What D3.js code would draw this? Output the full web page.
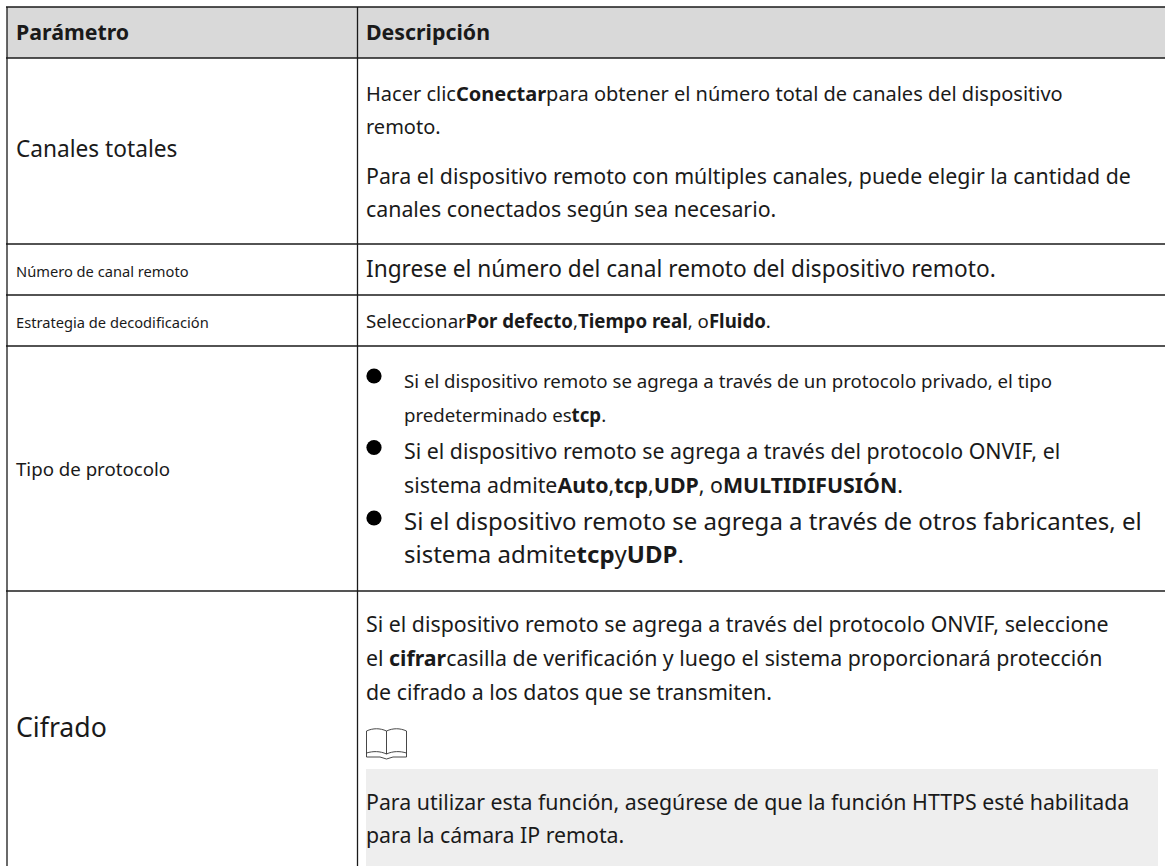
<!DOCTYPE html>
<html><head><meta charset="utf-8">
<script src="https://cdn.jsdelivr.net/npm/d3@7"></script>
<style>html,body{margin:0;padding:0;background:#fff;overflow:hidden}svg{display:block}text{font-family:"Noto Sans";fill:#1a1a1a;white-space:pre}</style>
</head><body><svg id="c" width="1165" height="866"></svg>
<script>
const headers = ["Parámetro", "Descripción"];
const params = ["Canales totales", "Número de canal remoto", "Estrategia de decodificación", "Tipo de protocolo", "Cifrado"];
const descLines = [
 "Hacer clic**Conectar**para obtener el número total de canales del dispositivo",
 "remoto.",
 "Para el dispositivo remoto con múltiples canales, puede elegir la cantidad de",
 "canales conectados según sea necesario.",
 "Ingrese el número del canal remoto del dispositivo remoto.",
 "Seleccionar**Por defecto**,**Tiempo real**, o**Fluido**.",
 "Si el dispositivo remoto se agrega a través de un protocolo privado, el tipo",
 "predeterminado es**tcp**.",
 "Si el dispositivo remoto se agrega a través del protocolo ONVIF, el",
 "sistema admite**Auto**,**tcp**,**UDP**, o**MULTIDIFUSIÓN**.",
 "Si el dispositivo remoto se agrega a través de otros fabricantes, el",
 "sistema admite**tcp**y**UDP**.",
 "Si el dispositivo remoto se agrega a través del protocolo ONVIF, seleccione",
 "el **cifrar**casilla de verificación y luego el sistema proporcionará protección",
 "de cifrado a los datos que se transmiten.",
 "Para utilizar esta función, asegúrese de que la función HTTPS esté habilitada",
 "para la cámara IP remota."
];
// layout
const W=1165, X0=7, X1=357.5, X2=1165, rowEdges=[7,58,244,295,346,591];
const paramY=[157,277,328,476,737], paramSize=[22.67,14.67,14.67,18.67,26.67];
const descLayout=[[101,20],[134,20],[184,21.33],[217,21.33],[277,22.67],[328,18.67],[388,18.67],[422,18.67],[459,21.33],[493,21.33],[530,24],[563,24],
 [632,21.33],[666,21.33],[700,21.33],[810,21.33],[843,21.33]];
const bulletIdx=[6,8,10], bulletCy=[376,447.5,518];
const svg=d3.select("#c");
svg.append("rect").attr("x",X0).attr("y",rowEdges[0]).attr("width",X2-X0).attr("height",rowEdges[1]-rowEdges[0]).attr("fill","#d9d9d9");
svg.append("rect").attr("x",366).attr("y",769).attr("width",792).attr("height",97).attr("fill","#eeeeee");
const lines=svg.append("g").attr("stroke","#1a1a1a").attr("stroke-width",1.3);
rowEdges.forEach((y,i)=>lines.append("line").attr("x1",X0-1).attr("x2",X2).attr("y1",y).attr("y2",y)
  .attr("stroke",i==5?"#555":null).attr("stroke-width",i==5?2:null));
[X0,X1].forEach(x=>lines.append("line").attr("x1",x).attr("x2",x).attr("y1",rowEdges[0]).attr("y2",866));
function put(s,x,y,size,bold){
 const t=svg.append("text").attr("x",x).attr("y",y).attr("font-size",size);
 s.split("**").forEach((p,i)=>{ if(p) t.append("tspan").attr("font-weight",(bold||i%2)?700:400).text(p);});
}
headers.forEach((h,i)=>put(h,[16,366][i],40,21.33,true));
params.forEach((p,i)=>put(p,16,paramY[i],paramSize[i]));
descLines.forEach((l,i)=>{const [y,s]=descLayout[i]; const bullet=i>=6&&i<=11; put(l,bullet?404:366,y,s);});
svg.selectAll("circle.b").data(bulletCy).join("circle").attr("cx",374).attr("cy",d=>d).attr("r",7.6).attr("fill","#000");
const bk=svg.append("g").attr("fill","none").attr("stroke","#333").attr("stroke-width",.9).attr("transform","translate(366,728)");
bk.append("path").attr("d","M0.5,25V3C7,0 14,0 20.5,3C27,0 34,0 40.5,3V25M20.5,3V26M0.5,25C7,23 14,23 20.5,26C27,23 34,23 40.5,25M0.5,25V29H14L20.5,31L27,29H40.5V25");
</script></body></html>
